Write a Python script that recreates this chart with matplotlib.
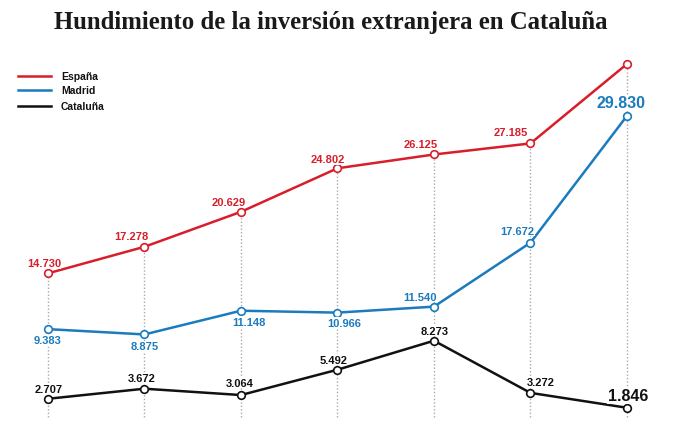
import matplotlib
matplotlib.use("Agg")
import matplotlib.pyplot as plt

# datos (miles de millones)
anios = list(range(7))
espana = [14.730, 17.278, 20.629, 24.802, 26.125, 27.185, 34.8]
madrid = [9.383, 8.875, 11.148, 10.966, 11.540, 17.672, 29.830]
cataluna = [2.707, 3.672, 3.064, 5.492, 8.273, 3.272, 1.846]

etq_espana = ["14.730", "17.278", "20.629", "24.802", "26.125", "27.185", ""]
etq_madrid = ["9.383", "8.875", "11.148", "10.966", "11.540", "17.672", "29.830"]
etq_cataluna = ["2.707", "3.672", "3.064", "5.492", "8.273", "3.272", "1.846"]

rojo = "#d81e2a"
azul = "#1a7bbf"
negro = "#111111"

# desplazamientos de las etiquetas (pixeles)
off_espana = [(-4, 10), (-13, 11), (-12, 10), (-10, 9), (-13, 10), (-20, 11), (0, 0)]
off_madrid = [(0, -11), (0, -12), (8, -11), (7, -10), (-14, 10), (-13, 12), (-6, 13)]
off_cataluna = [(1, 10), (-3, 11), (-1, 12), (-4, 10), (1, 10), (10, 11), (1, 12)]

fig = plt.figure(figsize=(6.9, 4.35), dpi=100)
ax = fig.add_axes([0, 0, 1, 1])
ax.set_xlim(-0.497, 6.653)
ax.set_ylim(-0.67, 41.03)
ax.axis("off")

# lineas verticales punteadas
for x, a, b, c in zip(anios, espana, madrid, cataluna):
    ax.plot([x, x], [0.96, max(a, b, c)], color="#aaaaaa", lw=1.0,
            ls=(0, (1, 1.5)), zorder=1)

series = [
    (espana, etq_espana, off_espana, rojo, "España"),
    (madrid, etq_madrid, off_madrid, azul, "Madrid"),
    (cataluna, etq_cataluna, off_cataluna, negro, "Cataluña"),
]
for vals, etqs, offs, col, nombre in series:
    ax.plot(anios, vals, color=col, lw=1.8, zorder=2)
    ax.plot(anios, vals, "o", ms=5.5, mfc="white", mec=col, mew=1.2, zorder=3)
    for i, (v, t, o) in enumerate(zip(vals, etqs, offs)):
        if not t:
            continue
        grande = i == len(vals) - 1
        ax.annotate(t, (anios[i], v), xytext=o, textcoords="offset pixels",
                    ha="center", va="center", color=col,
                    fontsize=11.5 if grande else 8, fontweight="bold",
                    family="Liberation Sans", zorder=4,
                    bbox=dict(fc="white", ec="none", pad=0.3))

# leyenda
for k, (_, _, _, col, nombre) in enumerate(series):
    yp = [77, 91, 107][k]
    fig.add_artist(plt.Line2D([18 / 690, 51 / 690], [1 - yp / 435] * 2,
                              color=col, lw=1.8))
    fig.text(61 / 690, 1 - yp / 435, nombre, ha="left", va="center",
             fontsize=7.5, fontweight="bold", family="Liberation Sans",
             color=negro)

fig.text(331 / 690, 1 - 22 / 435, "Hundimiento de la inversión extranjera en Cataluña",
         ha="center", va="center", fontsize=17.8, fontweight="bold",
         family="Liberation Serif", color="#1a1a1a")

fig.savefig("out.png", dpi=100)
